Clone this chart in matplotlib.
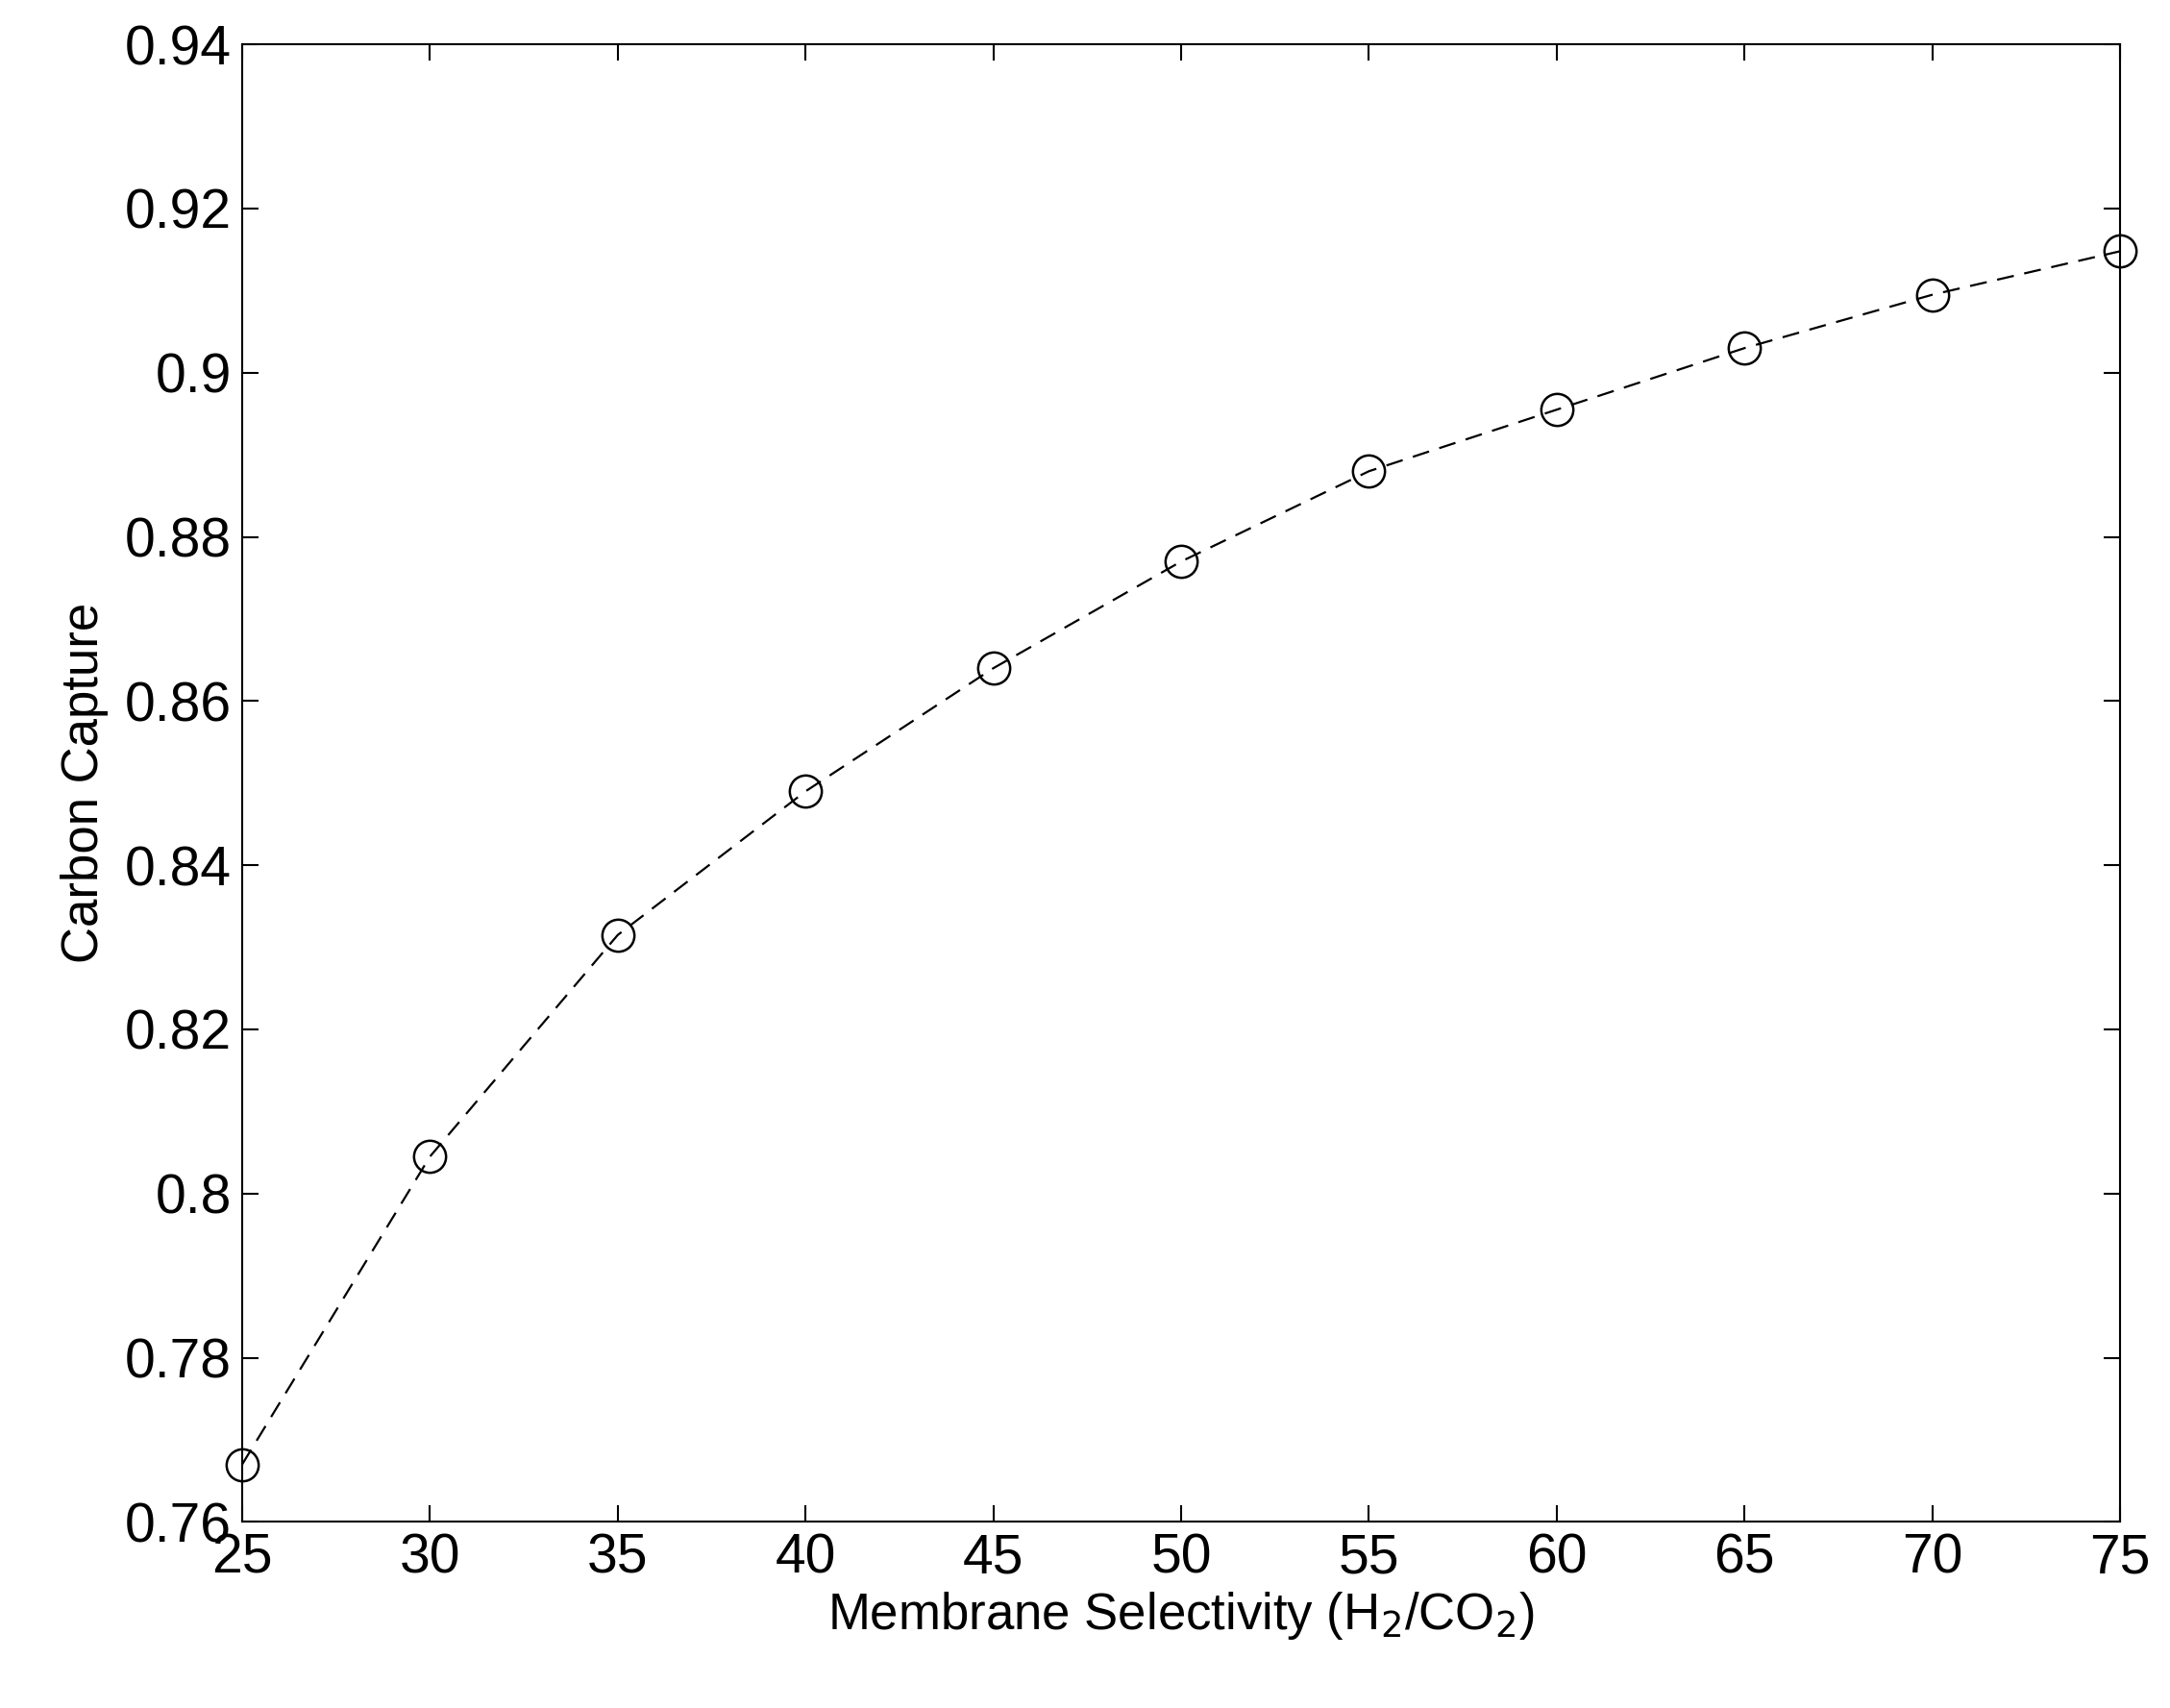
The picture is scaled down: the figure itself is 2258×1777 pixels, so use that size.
import matplotlib
matplotlib.use('Agg')
import matplotlib.pyplot as plt

plt.rcParams['font.family'] = ['Liberation Sans', 'DejaVu Sans']

selectivity = [25, 30, 35, 40, 45, 50, 55, 60, 65, 70, 75]
capture = [0.767, 0.8045, 0.8315, 0.849, 0.864, 0.877, 0.888, 0.8955, 0.903, 0.9095, 0.9148]
xticks = [25, 30, 35, 40, 45, 50, 55, 60, 65, 70, 75]
yticks = [0.76, 0.78, 0.8, 0.82, 0.84, 0.86, 0.88, 0.9, 0.92, 0.94]
ylabels = ['0.76', '0.78', '0.8', '0.82', '0.84', '0.86', '0.88', '0.9', '0.92', '0.94']

fig = plt.figure(figsize=(22.58, 17.77), dpi=100)
ax = fig.add_axes([0.1116, 0.109, 0.8654, 0.865])

ax.plot(selectivity, capture, linestyle=(0, (8, 5)), color='black', linewidth=1.6,
        marker='o', markersize=24, markerfacecolor='none', markeredgecolor='black',
        markeredgewidth=1.8, clip_on=False)

ax.set_xlim(25, 75)
ax.set_ylim(0.76, 0.94)
ax.set_xticks(xticks)
ax.set_yticks(yticks)
ax.set_yticklabels(ylabels)
ax.tick_params(direction='in', length=12, width=1.5, labelsize=41, top=True, right=True, pad=8)
for spine in ax.spines.values():
    spine.set_linewidth(1.5)

ax.set_xlabel('Membrane Selectivity (H$_2$/CO$_2$)', fontsize=38, labelpad=4)
ax.set_ylabel('Carbon Capture', fontsize=38, labelpad=12)

plt.savefig('out.png')
